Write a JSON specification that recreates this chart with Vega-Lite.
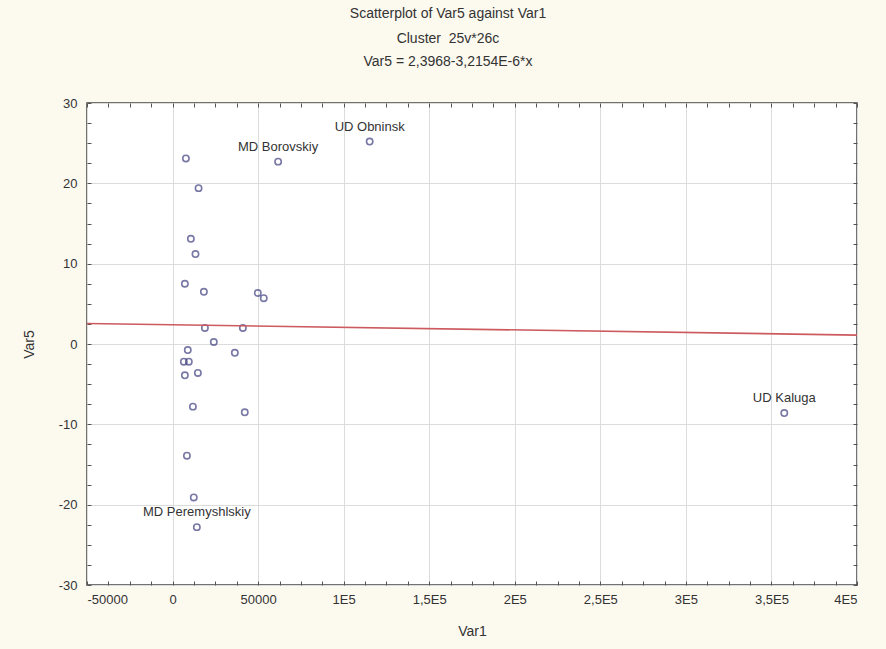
{
  "$schema": "https://vega.github.io/schema/vega-lite/v6.json",
  "autosize": "none",
  "width": 770,
  "height": 482,
  "padding": {"left": 87, "top": 103, "right": 29, "bottom": 64},
  "background": "#fcf9ef",
  "config": {
    "view": {"fill": "white", "stroke": "#444444", "strokeWidth": 1.5},
    "font": "Liberation Sans",
    "axis": {
      "labelFont": "Liberation Sans",
      "titleFont": "Liberation Sans",
      "labelFontSize": 13,
      "titleFontSize": 14,
      "titleFontWeight": "normal",
      "labelColor": "#333333",
      "titleColor": "#333333",
      "gridColor": "#dcdcdc",
      "gridWidth": 1,
      "domain": false,
      "tickColor": "#555555",
      "tickSize": -4
    }
  },
  "title": {
    "text": "Scatterplot of Var5 against Var1",
    "subtitle": ["Cluster\u00a0\u00a025v*26c", "Var5 = 2,3968-3,2154E-6*x"],
    "anchor": "middle",
    "frame": "group",
    "dx": -24,
    "offset": 28,
    "font": "Liberation Sans",
    "fontSize": 14,
    "fontWeight": "normal",
    "color": "#333333",
    "subtitleFont": "Liberation Sans",
    "subtitleFontSize": 14,
    "subtitleColor": "#333333",
    "subtitlePadding": 11,
    "subtitleLineHeight": 23
  },
  "resolve": {"axis": {"x": "independent", "y": "independent"}},
  "datasets": {
    "pts": [
      {"Var1": 7800, "Var5": 23.1, "label": ""},
      {"Var1": 15200, "Var5": 19.4, "label": ""},
      {"Var1": 10700, "Var5": 13.1, "label": ""},
      {"Var1": 13400, "Var5": 11.2, "label": ""},
      {"Var1": 61700, "Var5": 22.7, "label": "MD Borovskiy"},
      {"Var1": 115200, "Var5": 25.2, "label": "UD Obninsk"},
      {"Var1": 7200, "Var5": 7.5, "label": ""},
      {"Var1": 18300, "Var5": 6.5, "label": ""},
      {"Var1": 49800, "Var5": 6.35, "label": ""},
      {"Var1": 53300, "Var5": 5.7, "label": ""},
      {"Var1": 18900, "Var5": 2.0, "label": ""},
      {"Var1": 41100, "Var5": 2.0, "label": ""},
      {"Var1": 24100, "Var5": 0.25, "label": ""},
      {"Var1": 36400, "Var5": -1.1, "label": ""},
      {"Var1": 8900, "Var5": -0.75, "label": ""},
      {"Var1": 6600, "Var5": -2.2, "label": ""},
      {"Var1": 9500, "Var5": -2.2, "label": ""},
      {"Var1": 7200, "Var5": -3.9, "label": ""},
      {"Var1": 14800, "Var5": -3.6, "label": ""},
      {"Var1": 11900, "Var5": -7.8, "label": ""},
      {"Var1": 42200, "Var5": -8.5, "label": ""},
      {"Var1": 8400, "Var5": -13.9, "label": ""},
      {"Var1": 12400, "Var5": -19.1, "label": ""},
      {"Var1": 14200, "Var5": -22.8, "label": "MD Peremyshlskiy"},
      {"Var1": 357500, "Var5": -8.6, "label": "UD Kaluga"}
    ],
    "fit": [
      {"Var1": -50000, "Var5": 2.5576},
      {"Var1": 400000, "Var5": 1.1106}
    ]
  },
  "layer": [
    {
      "data": {"name": "pts"},
      "mark": {"type": "point", "shape": "circle", "filled": false, "color": "#3f3f80", "size": 40, "strokeWidth": 1.6},
      "encoding": {
        "x": {
          "field": "Var1",
          "type": "quantitative",
          "title": "Var1",
          "scale": {"domain": [-50000, 400000], "nice": false, "zero": false},
          "axis": {
            "orient": "bottom",
            "values": [-50000, -37500, -25000, -12500, 0, 12500, 25000, 37500, 50000, 62500, 75000, 87500, 100000, 112500, 125000, 137500, 150000, 162500, 175000, 187500, 200000, 212500, 225000, 237500, 250000, 262500, 275000, 287500, 300000, 312500, 325000, 337500, 350000, 362500, 375000, 387500, 400000],
            "labelExpr": "datum.value % 50000 != 0 ? '' : (datum.value < 100000 ? '' + datum.value : replace('' + (datum.value / 100000), '.', ',') + 'E5')",
            "gridOpacity": {"condition": {"test": "datum.value % 50000 == 0", "value": 1}, "value": 0},
            "titlePadding": 18,
            "labelPadding": 12
          }
        },
        "y": {
          "field": "Var5",
          "type": "quantitative",
          "title": "Var5",
          "scale": {"domain": [-30, 30], "nice": false},
          "axis": {
            "orient": "left",
            "values": [-30, -27.5, -25, -22.5, -20, -17.5, -15, -12.5, -10, -7.5, -5, -2.5, 0, 2.5, 5, 7.5, 10, 12.5, 15, 17.5, 20, 22.5, 25, 27.5, 30],
            "labelExpr": "datum.value % 10 != 0 ? '' : '' + datum.value",
            "gridOpacity": {"condition": {"test": "datum.value % 10 == 0", "value": 1}, "value": 0},
            "titlePadding": 22,
            "labelPadding": 14
          }
        }
      }
    },
    {
      "data": {"name": "fit"},
      "mark": {"type": "line", "color": "#cc5a5e", "strokeWidth": 1.6, "clip": true},
      "encoding": {
        "x": {
          "field": "Var1",
          "type": "quantitative",
          "axis": {
            "orient": "top",
            "title": null,
            "labels": false,
            "grid": false,
            "values": [-50000, -37500, -25000, -12500, 0, 12500, 25000, 37500, 50000, 62500, 75000, 87500, 100000, 112500, 125000, 137500, 150000, 162500, 175000, 187500, 200000, 212500, 225000, 237500, 250000, 262500, 275000, 287500, 300000, 312500, 325000, 337500, 350000, 362500, 375000, 387500, 400000]
          }
        },
        "y": {
          "field": "Var5",
          "type": "quantitative",
          "axis": {
            "orient": "right",
            "title": null,
            "labels": false,
            "grid": false,
            "values": [-30, -27.5, -25, -22.5, -20, -17.5, -15, -12.5, -10, -7.5, -5, -2.5, 0, 2.5, 5, 7.5, 10, 12.5, 15, 17.5, 20, 22.5, 25, 27.5, 30]
          }
        }
      }
    },
    {
      "data": {"name": "pts"},
      "transform": [{"filter": "datum.label != ''"}],
      "mark": {"type": "text", "dy": -15, "fontSize": 13, "color": "#333333", "font": "Liberation Sans"},
      "encoding": {
        "x": {"field": "Var1", "type": "quantitative", "axis": null},
        "y": {"field": "Var5", "type": "quantitative", "axis": null},
        "text": {"field": "label"}
      }
    }
  ]
}
